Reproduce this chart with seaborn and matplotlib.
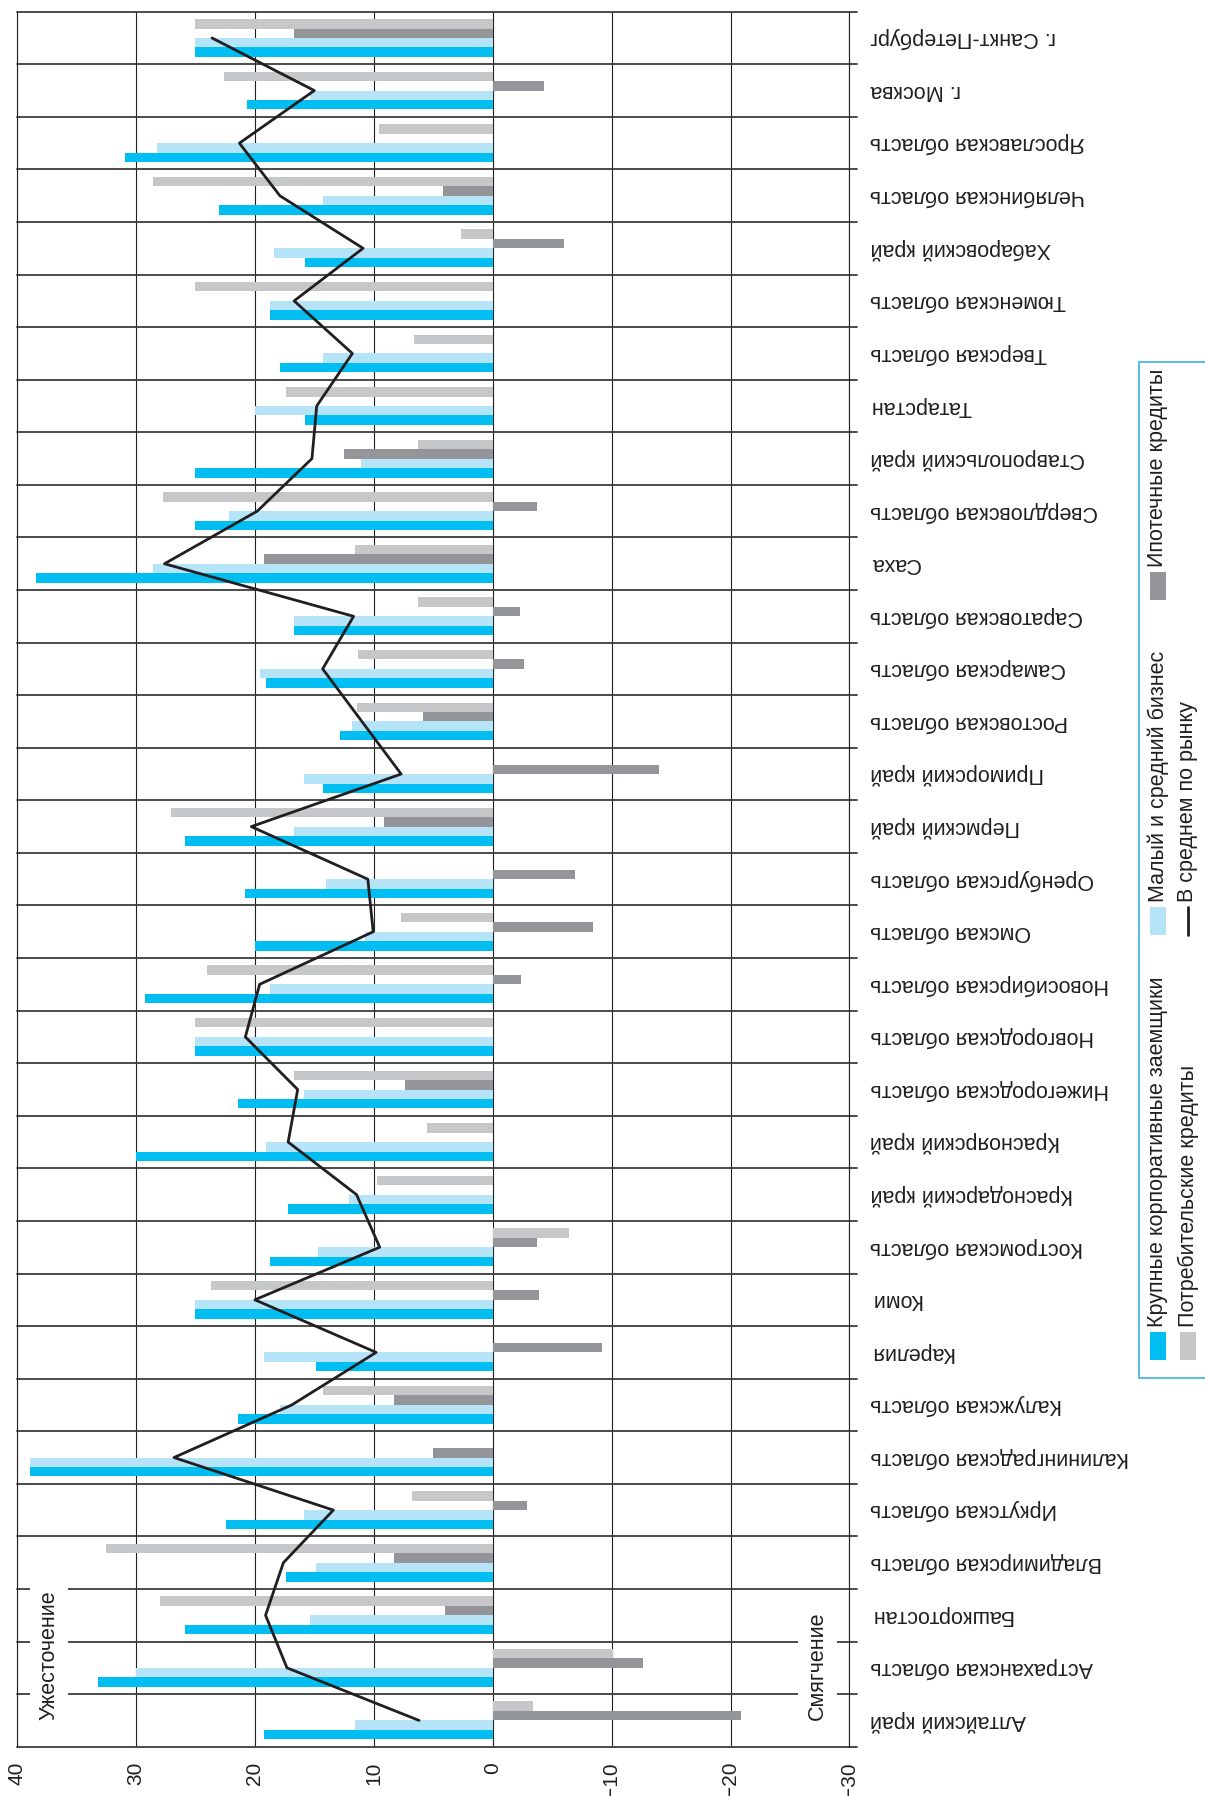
import numpy as np
import pandas as pd
import matplotlib
matplotlib.use("Agg")
import matplotlib.pyplot as plt
import seaborn as sns
from matplotlib.patches import Rectangle
from matplotlib.lines import Line2D

# ---------------- data ----------------
regions = ["Алтайский край", "Астраханская область", "Башкортостан", "Владимирская область",
           "Иркутская область", "Калининградская область", "Калужская область", "Карелия", "Коми",
           "Костромская область", "Краснодарский край", "Красноярский край", "Нижегородская область",
           "Новгородская область", "Новосибирская область", "Омская область", "Оренбургская область",
           "Пермский край", "Приморский край", "Ростовская область", "Самарская область",
           "Саратовская область", "Саха", "Свердловская область", "Ставропольский край", "Татарстан",
           "Тверская область", "Тюменская область", "Хабаровский край", "Челябинская область",
           "Ярославская область", "г. Москва", "г. Санкт-Петербург"]

large_corp = [19.2, 33.2, 25.9, 17.4, 22.4, 38.9, 21.4, 14.9, 25.0, 18.7, 17.2, 30.0, 21.4, 25.0,
              29.2, 20.0, 20.8, 25.9, 14.25, 12.85, 19.1, 16.7, 38.4, 25.0, 25.0, 15.8, 17.9, 18.7,
              15.8, 23.0, 30.9, 20.7, 25.0]
sme = [11.6, 30.0, 15.4, 14.9, 15.85, 38.9, 17.9, 19.2, 25.0, 14.7, 12.1, 19.1, 15.85, 25.0, 18.7,
       10.7, 14.0, 16.7, 15.85, 11.8, 19.6, 16.7, 28.6, 22.2, 11.1, 20.0, 14.25, 18.7, 18.4, 14.25,
       28.2, 15.4, 25.0]
mortgage = [-20.9, -12.6, 4.0, 8.3, -2.9, 5.0, 8.3, -9.2, -3.9, -3.7, 0, 0, 7.4, 0, -2.4, -8.45,
            -6.96, 9.1, -14.0, 5.85, -2.6, -2.3, 19.2, -3.7, 12.5, 0, 0, 0, -6.0, 4.15, 0, -4.35, 16.7]
consumer = [-3.4, -10.1, 28.0, 32.5, 6.8, 0, 14.25, 0, 23.7, -6.4, 9.7, 5.5, 16.7, 25.0, 24.0, 7.7,
            0, 27.05, 0, 11.4, 11.3, 6.3, 11.6, 27.7, 6.3, 17.4, 6.6, 25.0, 2.66, 28.6, 9.6, 22.6, 25.0]
market_avg = [6.2, 17.3, 19.1, 17.6, 13.4, 26.8, 16.9, 9.8, 20.0, 9.5, 11.45, 17.2, 16.4, 20.8, 19.6,
              10.05, 10.5, 20.3, 7.7, 11.0, 14.3, 11.7, 27.6, 19.8, 15.2, 14.8, 11.8, 16.7, 10.9, 17.9,
              21.3, 15.0, 23.6]

series_names = ["Крупные корпоративные заемщики", "Малый и средний бизнес",
                "Ипотечные кредиты", "Потребительские кредиты"]
avg_name = "В среднем по рынку"
x_ticks = [40, 30, 20, 10, 0, -10, -20, -30]
tighten_label = "Ужесточение"
ease_label = "Смягчение"

colors = {series_names[0]: "#00bdf2", series_names[1]: "#b5e3f8",
          series_names[2]: "#939598", series_names[3]: "#c6c7c9"}

# long table for seaborn
df = pd.DataFrame({
    "region": regions * 4,
    "series": sum([[s] * len(regions) for s in series_names], []),
    "value": large_corp + sme + mortgage + consumer,
})

# ---------------- style ----------------
sns.set_style("white")
plt.rcParams["font.family"] = ["Liberation Sans", "DejaVu Sans"]
plt.rcParams["axes.unicode_minus"] = True

W, H = 1205, 1796
fig = plt.figure(figsize=(W / 100, H / 100), dpi=100)


def fx(px):
    return px / W


def fy(py):
    return 1 - py / H


ax_l, ax_r, ax_t, ax_b = 17, 849.5, 11.7, 1746.7
ax = fig.add_axes([fx(ax_l), fy(ax_b), (ax_r - ax_l) / W, (ax_b - ax_t) / H])

n = len(regions)
order = regions[::-1]                      # top -> bottom
hue_order = series_names[::-1]             # top bar in group -> bottom bar

sns.barplot(data=df, x="value", y="region", hue="series", order=order, hue_order=hue_order,
            palette=colors, width=0.72, orient="h", errorbar=None, saturation=1,
            legend=False, ax=ax, linewidth=0, zorder=3)

positions = [n - 1 - i for i in range(n)]
sns.lineplot(x=market_avg, y=positions, sort=False, estimator=None, color="#231f20",
             linewidth=2.0, ax=ax, zorder=6)

ax.set_xlim(40, -30)
ax.set_ylim(n - 0.5, -0.5)
ax.set_xlabel("")
ax.set_ylabel("")

# vertical grid
ax.set_xticks(x_ticks)
ax.set_xticklabels([str(v).replace("-", "\u2212") for v in x_ticks], rotation=90)
ax.grid(axis="x", color="#231f20", linewidth=0.8, zorder=1)
ax.grid(axis="y", visible=False)
ax.set_axisbelow(True)
ax.tick_params(axis="x", length=2.5, width=0.8, color="#231f20", pad=8.5,
               labelsize=15, labelcolor="#231f20")
for side in ["top", "bottom"]:
    ax.spines[side].set_visible(False)
for side in ["left", "right"]:
    ax.spines[side].set_color("#231f20")
    ax.spines[side].set_linewidth(0.8)

# group separators
for b in np.arange(-0.5, n, 1.0):
    ax.axhline(b, xmin=0, xmax=1.0095, color="#3c3c3c", linewidth=1.3, clip_on=False, zorder=2)

# category labels (upside down, right side)
ax.yaxis.tick_right()
ax.tick_params(axis="y", length=0, pad=14.8, labelsize=15.5, labelcolor="#231f20",
               labelrotation=180)
for lbl in ax.get_yticklabels():
    lbl.set_ha("left")
    lbl.set_va("center")

# direction labels
box = dict(boxstyle="square,pad=0.4", fc="white", ec="none")
ax.text(37.3, 32.0, tighten_label, rotation=90, ha="center", va="bottom", fontsize=15.5,
        color="#231f20", bbox=box, zorder=7)
ax.text(-27.3, 32.0, ease_label, rotation=90, ha="center", va="bottom", fontsize=15.5,
        color="#231f20", bbox=box, zorder=7)

# ---------------- legend (rotated) ----------------
fig.add_artist(Rectangle((fx(1139), fy(1378)), fx(1215) - fx(1139), fy(362) - fy(1378),
                         transform=fig.transFigure, fc="white", ec="#3ab4e6", lw=1.2,
                         clip_on=False))

legend_items = [
    (series_names[0], 1158, 1360, "patch"),
    (series_names[1], 1158, 935, "patch"),
    (series_names[2], 1158, 600, "patch"),
    (series_names[3], 1188, 1360, "patch"),
    (avg_name, 1188, 935, "line"),
]
for name, cx, y_bot, kind in legend_items:
    if kind == "patch":
        fig.add_artist(Rectangle((fx(cx - 8), fy(y_bot)), 16 / W, 28 / H,
                                 transform=fig.transFigure, fc=colors[name], ec="none"))
    else:
        fig.add_artist(Line2D([fx(cx), fx(cx)], [fy(y_bot), fy(y_bot - 28)],
                              transform=fig.transFigure, color="#231f20", lw=2.0))
    fig.text(fx(cx), fy(y_bot - 33), name, rotation=90, ha="center", va="bottom",
             fontsize=15.5, color="#231f20")

fig.savefig("out.png", dpi=100)
